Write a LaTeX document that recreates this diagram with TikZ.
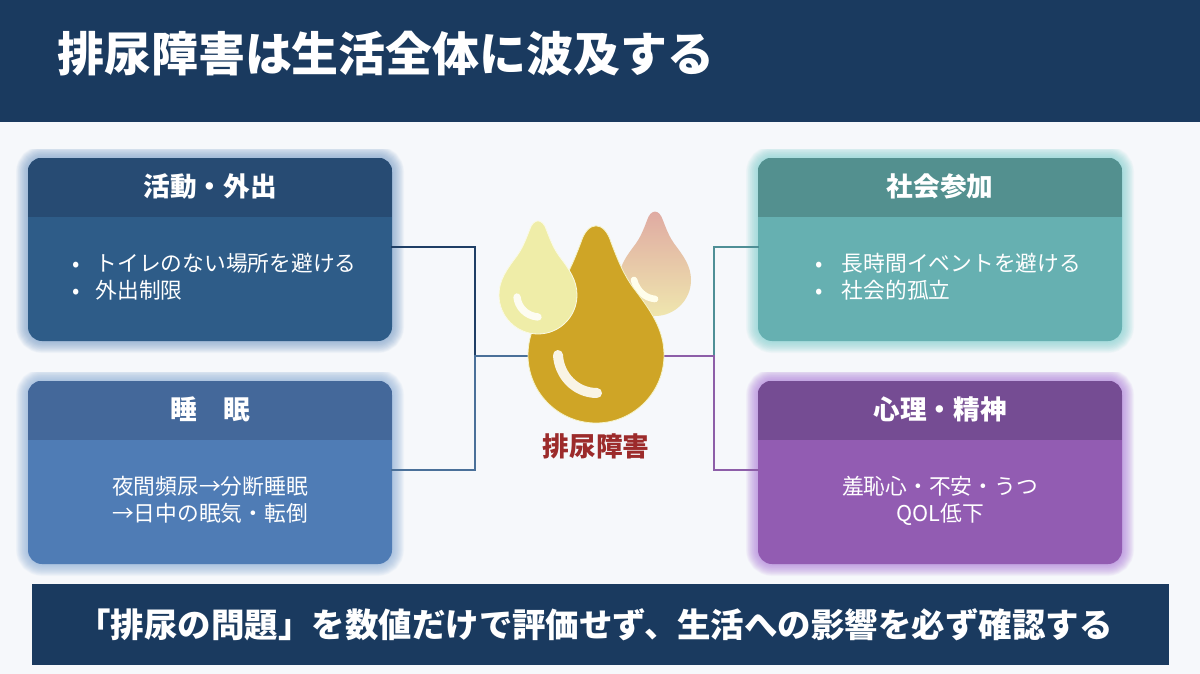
\documentclass[tikz,border=0pt]{standalone}
\usepackage{fontspec}
\setmainfont{Noto Sans CJK JP}
\usetikzlibrary{calc}
\definecolor{bgc}{HTML}{F6F8FB}
\definecolor{navy}{HTML}{1A3A5F}
\definecolor{goldc}{HTML}{CFA526}
\definecolor{paley}{HTML}{EFEDA8}
\definecolor{redt}{HTML}{9C2B2B}
\definecolor{pinkd}{HTML}{DFA9A2}
\definecolor{creamd}{HTML}{EFE6AE}
\definecolor{hA}{HTML}{274B73}\definecolor{bA}{HTML}{2E5C88}\definecolor{gA}{HTML}{7FA3CC}
\definecolor{hB}{HTML}{44689A}\definecolor{bB}{HTML}{4F7CB5}\definecolor{gB}{HTML}{8FB0D8}
\definecolor{hC}{HTML}{53908F}\definecolor{bC}{HTML}{66B0B1}\definecolor{gC}{HTML}{85D2D2}
\definecolor{hD}{HTML}{754C93}\definecolor{bD}{HTML}{925CB2}\definecolor{gD}{HTML}{B07FDC}
\definecolor{lA}{HTML}{1F3F66}\definecolor{lB}{HTML}{4A7099}\definecolor{lC}{HTML}{4F8F96}\definecolor{lD}{HTML}{8D5EA8}
\newcommand{\fsz}[1]{\fontsize{#1}{#1}\selectfont}
\newcommand{\dropshape}{(-1,0) .. controls (-1,-0.552) and (-0.552,-1) .. (0,-1) .. controls (0.552,-1) and (1,-0.552) .. (1,0)
 .. controls (1,0.38) and (0.8,0.66) .. (0.54,1.0) .. controls (0.42,1.17) and (0.34,1.34) .. (0.22,1.66)
 .. controls (0.12,1.98) and (-0.12,1.98) .. (-0.22,1.66) .. controls (-0.34,1.34) and (-0.42,1.17) .. (-0.54,1.0)
 .. controls (-0.8,0.66) and (-1,0.38) .. (-1,0) -- cycle}
\tikzset{
 cardbox/.style={minimum width=273pt,minimum height=137.25pt,inner sep=0pt,rounded corners=10.5pt},
 headtext/.style={text=white,font=\fsz{20pt}\bfseries,inner sep=0pt,anchor=center},
 bodytext/.style={text=white,font=\fsz{16.3pt},inner sep=0pt,align=center,text depth=0pt},
 wire/.style={line width=1.5pt},
 shine/.style={line width=7.5pt,line cap=round},
 hole/.style={circle,inner sep=0pt},
}
% name, cx, cy, colour suffix, title
\newcommand{\card}[5]{%
 \begin{scope}
 \clip (#2-198,#3-100) rectangle (#2+198,#3+106);
 \foreach \w in {1,2,...,18}{\path[draw=g#4,opacity=0.055,line width=\w pt,rounded corners=10.5pt]
   (#2-182,#3-91.5) rectangle (#2+182,#3+91.5);}
 \end{scope}
 \node[cardbox,fill=b#4] (#1) at (#2,#3) {};
 \begin{scope}
  \path[clip,rounded corners=10.5pt] (#1.south west) rectangle (#1.north east);
  \fill[h#4] (#1.north west) rectangle (#2+182,#3-32.5);
 \end{scope}
 \node[headtext] (#1h) at (#2,#3-63) {#5};
}
\begin{document}
\begin{tikzpicture}[x=0.75pt,y=-0.75pt]
\useasboundingbox (0,0) rectangle (1200,674);
\fill[bgc] (0,0) rectangle (1200,674);
\fill[navy] (0,0) rectangle (1200,122);
\node[anchor=west,text=white,font=\fsz{35.2pt}\bfseries,inner sep=0pt] (title) at (57,54) {排尿障害は生活全体に波及する};
% cards
\card{act}{210}{249.5}{A}{活動・外出}
\card{slp}{210}{472.5}{B}{睡　眠}
\card{soc}{940}{249.5}{C}{社会参加}
\card{psy}{940}{472.5}{D}{心理・精神}
% card bodies
\node[bodytext,anchor=west,align=left] (actb) at (72,276) {\makebox[17.6pt][l]{•}トイレのない場所を避ける\\[3.8pt]\makebox[17.6pt][l]{•}外出制限};
\node[bodytext,anchor=west,align=left] (socb) at (815,276) {\makebox[20pt][l]{•}長時間イベントを避ける\\[3.8pt]\makebox[20pt][l]{•}社会的孤立};
\node[bodytext] (slpb) at (210,499) {夜間頻尿→分断睡眠\\[3.8pt]→日中の眠気・転倒};
\node[bodytext] (psyb) at (940,499) {羞恥心・不安・うつ\\[3.8pt]QOL低下};
% hub geometry
\node[hole,minimum size=102pt] (drop) at (596,356) {};
\coordinate (la) at (475,247);
\coordinate (lm) at (475,356);
\coordinate (lb) at (475,470);
\coordinate (ra) at (714,247);
\coordinate (rm) at (714,356);
\coordinate (rb) at (714,470);
% connectors
\draw[wire,lA,line cap=rect] (act.east |- la) -- (la) -- (lm);
\draw[wire,lB,line cap=rect] (slp.east |- lb) -- (lb) -- (lm);
\draw[wire,lB] (lm) -- (drop.west);
\draw[wire,lC,line cap=rect] (soc.west |- ra) -- (ra) -- (rm);
\draw[wire,lD,line cap=rect] (psy.west |- rb) -- (rb) -- (rm);
\draw[wire,lD] (rm) -- (drop.east);
% drops
\begin{scope}[shift={(655,280)},x=27pt,y=27pt]
 \path[top color=pinkd,bottom color=creamd] \dropshape;
\end{scope}
\draw[shine,line width=5pt,white!92!yellow] (634,280) .. controls (637,291) and (645,298) .. (655,299);
\begin{scope}[shift={(596,355)},x=51pt,y=51pt]
 \path[fill=goldc,draw=paley!60!white,line width=0.6pt] \dropshape;
\end{scope}
\draw[shine,white!88!goldc] (558,355) .. controls (559,375) and (575,393) .. (597,393);
\begin{scope}[shift={(538,295)},x=29.25pt,y=29.25pt]
 \path[fill=paley,draw=white!70!paley,line width=0.6pt] \dropshape;
\end{scope}
\draw[shine,line width=5.5pt,white!85!paley] (517,297) .. controls (518,307) and (526,316) .. (538,317);
\node[text=redt,font=\fsz{20pt}\bfseries,inner sep=0pt] (hub) at (596,446) {排尿障害};
% bottom banner
\node[fill=navy,minimum width=852.75pt,minimum height=60.75pt,inner sep=0pt] (msg) at (600.5,624.5) {};
\node[text=white,font=\fsz{25.1pt}\bfseries,inner sep=0pt] (msgt) at (595,625) {「排尿の問題」を数値だけで評価せず、生活への影響を必ず確認する};
\end{tikzpicture}
\end{document}
